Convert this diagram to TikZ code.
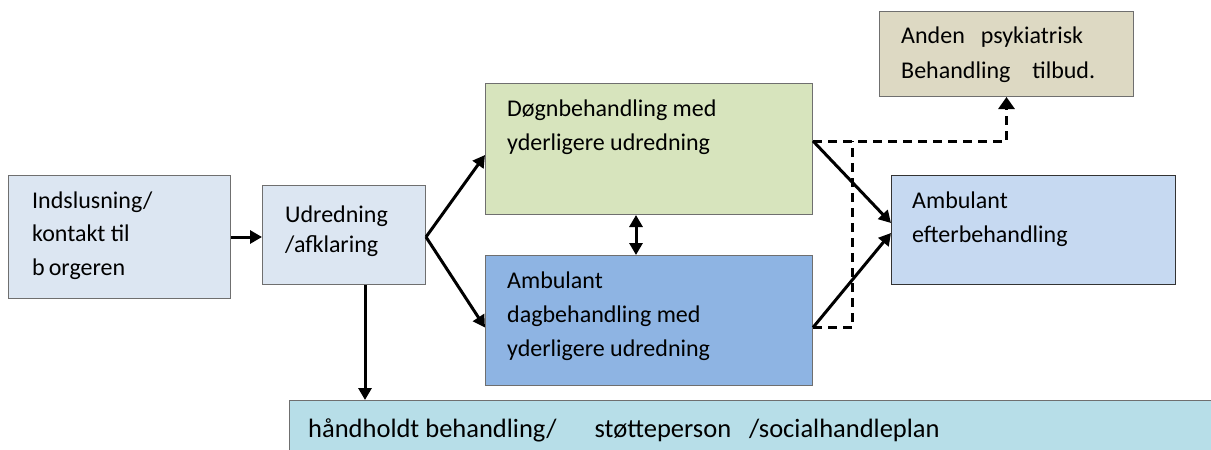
\documentclass[tikz,border=0pt]{standalone}
\usepackage{fontspec}
\setmainfont{Carlito}
\usetikzlibrary{arrows.meta,calc}
\definecolor{cIn}{HTML}{DCE6F2}
\definecolor{cDog}{HTML}{D7E4BD}
\definecolor{cDag}{HTML}{8EB4E3}
\definecolor{cAnd}{HTML}{DDD9C3}
\definecolor{cEft}{HTML}{C6D9F1}
\definecolor{cBot}{HTML}{B7DEE8}
\definecolor{cBorder}{HTML}{6F6F6F}
\tikzset{
  box/.style={draw=cBorder, line width=1pt, anchor=north west, inner sep=0pt},
  txt/.style={anchor=base west, align=left, inner sep=0pt, font=\fontsize{24}{34}\selectfont},
  arr/.style={line width=3pt, -{Triangle[length=12pt,width=13pt]}},
  darr/.style={line width=3pt, {Triangle[length=12pt,width=13pt]}-{Triangle[length=12pt,width=13pt]}},
  dashline/.style={line width=3pt, dash pattern=on 9pt off 6pt},
}
\begin{document}
\begin{tikzpicture}[x=1pt,y=-1pt]
\useasboundingbox[fill=white] (0,0) rectangle (1211,450);
% boxes
\node[box, fill=cIn, minimum width=222, minimum height=123] (ind) at (8,175) {};
\node[box, fill=cIn, minimum width=163, minimum height=99] (udr) at (262,185) {};
\node[box, fill=cDog, minimum width=327, minimum height=131] (dog) at (485,83) {};
\node[box, fill=cDag, minimum width=327, minimum height=130] (dag) at (485,255) {};
\node[box, fill=cAnd, minimum width=254, minimum height=85] (and) at (879,11) {};
\node[box, fill=cEft, minimum width=284, minimum height=109, draw=black!80] (eft) at (891,175) {};
\node[box, fill=cBot, minimum width=940, minimum height=70] (bot) at (289,400) {};
% texts (anchored at the baseline of the last line)
\node[txt, font=\fontsize{24}{33.5}\selectfont] (indT) at (32,275) {Indslusning/\\kontakt til\\b\,orgeren};
\node[txt, font=\fontsize{24}{30}\selectfont] (udrT) at (285,252) {Udredning\\/afklaring};
\node[txt] (dogT) at (507,150) {Døgnbehandling med\\yderligere udredning};
\node[txt] (dagT) at (507,356) {Ambulant\\dagbehandling med\\yderligere udredning};
\node[txt, font=\fontsize{24}{35}\selectfont] (andT) at (901,78) {Anden\hspace{16pt}psykiatrisk\\Behandling\hspace{22pt}tilbud.};
\node[txt] (eftT) at (912,242) {Ambulant\\efterbehandling};
\node[txt, font=\fontsize{26.5}{30}\selectfont] (botT) at (308,437) {håndholdt behandling/\hspace{38pt}støtteperson\hspace{18pt}/socialhandleplan};
% connectors
\draw[arr] (ind.east) -- (ind.east -| udr.west);
\draw[arr] ($(udr.east)+(0,2)$) -- ($(dog.west)+(0,6)$);
\draw[arr] ($(udr.east)+(0,2)$) -- ($(dag.west)+(0,7)$);
\draw[darr] ([xshift=-13]dog.south) -- ([xshift=-13]dag.north);
\coordinate (dogE) at ($(dog.east)+(0,-8)$);
\coordinate (dagE) at ($(dag.east)+(0,7)$);
\draw[arr] (dogE) -- ($(eft.west)+(0,-7)$);
\draw[arr] (dagE) -- ($(eft.west)+(0,3)$);
\draw[dashline, -{Triangle[length=12pt,width=16pt]}] (dogE) -| (and.south);
\coordinate (junc) at ($(dogE)+(39,0)$);
\draw[dashline] (dagE) -| (junc);
\draw[arr] ([xshift=21]udr.south) -- ([xshift=21]udr.south |- bot.north);
\end{tikzpicture}
\end{document}
